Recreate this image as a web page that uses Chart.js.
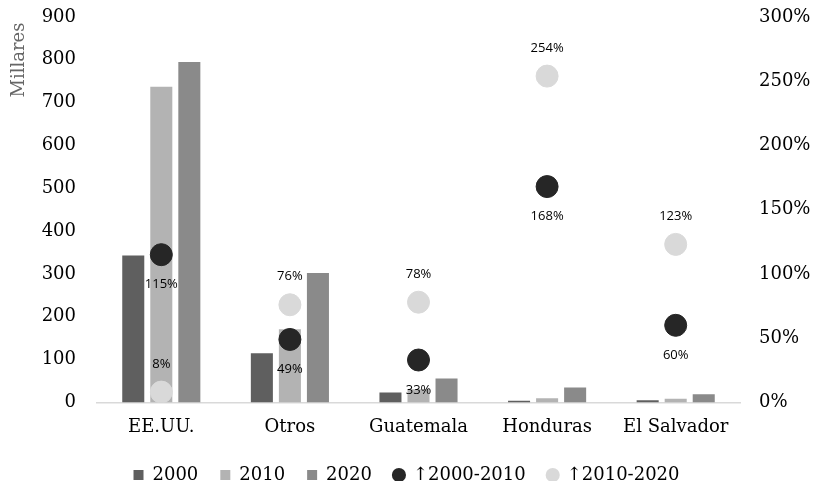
<!DOCTYPE html>
<html lang="es">
<head>
<meta charset="utf-8">
<title>Migrantes por destino</title>
<script src="https://cdn.jsdelivr.net/npm/chart.js@4/dist/chart.umd.min.js"></script>
<style>
    html, body { margin: 0; padding: 0; background: #fff; }
    #contenedor { width: 818px; height: 481px; position: relative; }
</style>
</head>
<body>
<div id="contenedor"><canvas id="grafico"></canvas></div>
<script>
// datos (miles de personas)
const paises = ['EE.UU.', 'Otros', 'Guatemala', 'Honduras', 'El Salvador'];
const valores2000 = [343, 115, 23, 3.7, 5.3];
const valores2010 = [737, 171, 31, 9.9, 8.5];
const valores2020 = [795, 302, 56, 35, 19];
// crecimiento en %
const crecimiento0010 = [115, 49, 33, 168, 60];
const crecimiento1020 = [8, 76, 78, 254, 123];
// marcas de los ejes
const ticksMillares = [0, 100, 200, 300, 400, 500, 600, 700, 800, 900];
const ticksPorcentaje = [0, 50, 100, 150, 200, 250, 300];

const SERIF = '"DejaVu Serif", serif';

// etiquetas de los puntos y rótulo "Millares" (sin plugin externo)
const etiquetas = {
    id: 'etiquetas',
    afterInit(chart) {
        // leyenda más baja, como en el original
        const leyenda = chart.legend;
        if (leyenda) {
            const fitOriginal = leyenda.fit.bind(leyenda);
            leyenda.fit = function () {
                fitOriginal();
                this.height = 37;
            };
        }
    },
    afterDatasetsDraw(chart) {
        const ctx = chart.ctx;
        ctx.save();
        ctx.font = '13px "Open Sans", sans-serif';
        ctx.fillStyle = '#000';
        ctx.textAlign = 'center';
        ctx.textBaseline = 'middle';
        chart.data.datasets.forEach((ds, i) => {
            if (!ds.etiqueta) return;
            const meta = chart.getDatasetMeta(i);
            meta.data.forEach((pt, j) => {
                const dy = ds.etiqueta === 'abajo' ? 30 : -28;
                ctx.fillText(ds.data[j] + '%', pt.x, pt.y + dy);
            });
        });
        ctx.restore();

        // título del eje izquierdo
        ctx.save();
        ctx.translate(19, 60);
        ctx.rotate(-Math.PI / 2);
        ctx.font = '18px ' + SERIF;
        ctx.fillStyle = '#666';
        ctx.textAlign = 'center';
        ctx.textBaseline = 'middle';
        ctx.fillText('Millares', 0, 0);
        ctx.restore();
    }
};

Chart.defaults.font.family = SERIF;
Chart.defaults.font.size = 18;
Chart.defaults.color = '#000';

const barra = (label, data, color) => ({
    type: 'bar',
    label: label,
    data: data,
    backgroundColor: color,
    yAxisID: 'y',
    order: 1,
    barPercentage: 0.786,
    categoryPercentage: 0.654
});

const puntos = (label, data, color, etiqueta) => ({
    type: 'line',
    label: label,
    data: data,
    showLine: false,
    backgroundColor: color,
    borderColor: color,
    pointBackgroundColor: color,
    pointBorderColor: color,
    pointRadius: 11,
    pointHoverRadius: 11,
    yAxisID: 'y1',
    order: 0,
    etiqueta: etiqueta
});

// ancho fijo de los ejes verticales, sin margen extra arriba/abajo
const ajustarEje = ancho => s => {
    s.width = ancho;
    s.paddingTop = 0;
    s.paddingBottom = 0;
};

new Chart(document.getElementById('grafico'), {
    data: {
        labels: paises,
        datasets: [
            barra('2000', valores2000, '#5f5f5f'),
            barra('2010', valores2010, '#b3b3b3'),
            barra('2020', valores2020, '#8a8a8a'),
            puntos('\u21912000-2010', crecimiento0010, '#262626', 'abajo'),
            puntos('\u21912010-2020', crecimiento1020, '#d9d9d9', 'arriba')
        ]
    },
    options: {
        responsive: true,
        maintainAspectRatio: false,
        animation: false,
        devicePixelRatio: 1,
        layout: { padding: { top: 17, right: 5, left: 0, bottom: 0 } },
        plugins: {
            tooltip: { enabled: false },
            legend: {
                position: 'bottom',
                labels: {
                    usePointStyle: true,
                    boxWidth: 10,
                    boxHeight: 10,
                    padding: 22,
                    font: { family: SERIF, size: 18 },
                    color: '#000',
                    sort: (a, b) => a.datasetIndex - b.datasetIndex,
                    generateLabels(chart) {
                        return chart.data.datasets.map((ds, i) => ({
                            text: ds.label,
                            fillStyle: ds.backgroundColor,
                            strokeStyle: ds.backgroundColor,
                            lineWidth: 0,
                            pointStyle: ds.type === 'bar' ? 'rect' : 'circle',
                            datasetIndex: i,
                            hidden: false
                        }));
                    }
                }
            }
        },
        scales: {
            x: {
                grid: { display: false },
                border: { color: '#d9d9d9', width: 1.5 },
                ticks: { padding: 6, font: { family: SERIF, size: 18 } }
            },
            y: {
                position: 'left',
                min: 0,
                max: 900,
                grid: { display: false },
                border: { display: false },
                afterBuildTicks: s => { s.ticks = ticksMillares.map(v => ({ value: v })); },
                afterFit: ajustarEje(97),
                ticks: { padding: 13, font: { family: SERIF, size: 18 } }
            },
            y1: {
                position: 'right',
                min: 0,
                max: 300,
                grid: { display: false },
                border: { display: false },
                afterBuildTicks: s => { s.ticks = ticksPorcentaje.map(v => ({ value: v })); },
                afterFit: ajustarEje(73),
                ticks: {
                    padding: 11,
                    font: { family: SERIF, size: 18 },
                    callback: v => v + '%'
                }
            }
        }
    },
    plugins: [etiquetas]
});
</script>
</body>
</html>
